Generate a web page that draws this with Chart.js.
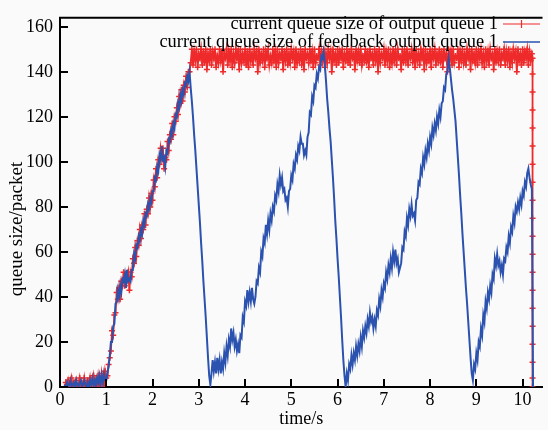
<!DOCTYPE html>
<html><head><meta charset="utf-8">
<script src="https://cdn.jsdelivr.net/npm/chart.js@4.4.1/dist/chart.umd.min.js"></script>
<style>html,body{margin:0;padding:0;background:#fafafa;}#wrap{width:548px;height:430px;position:relative;}</style>
</head><body><div id="wrap"><canvas id="c"></canvas></div>
<script>
// sampling grid of both traces (seconds)
const sampleStart = 0.1;
const sampleStep = 0.025;
const xTickValues = [0,1,2,3,4,5,6,7,8,9,10];
const yTickValues = [0,20,40,60,80,100,120,140,160];
const seriesNames = ['current queue size of output queue 1','current queue size of feedback output queue 1'];
const xTitle = 'time/s';
const yTitle = 'queue size/packet';

// feedback output queue (blue), one row = 0.5 s
const feedbackQueue = [
1,0,2,0,1,3,0,1,2,0,3,1,0,2,3,0,1,3,1,0,
2,0,3,1,4,1,3,0,4,2,5,1,5,2,6,3,3,6,9,14,
20,20,27,28,37,38,43,40,45,42,48,47,50,44,52,47,48,47,52,52,
59,57,63,62,67,65,70,68,74,72,77,76,81,79,84,82,87,87,93,92,
98,96,103,101,107,101,102,98,105,104,110,109,114,112,117,115,121,120,126,124,
130,127,132,130,135,134,138,136,140,133,127,120,112,105,97,89,81,73,64,56,
47,39,31,22,13,5,1,6,12,7,11,6,13,8,12,6,11,8,15,11,
18,14,21,18,26,21,24,18,21,16,19,15,23,22,31,29,38,36,43,38,
42,38,44,39,37,40,47,46,53,51,60,58,66,64,72,68,74,70,77,74,
80,78,85,83,90,87,94,90,93,87,88,83,84,80,87,88,94,92,99,97,
103,101,107,105,111,108,108,103,105,103,111,113,122,121,129,127,134,133,139,137,
142,141,147,146,149,143,136,128,122,115,109,101,93,84,74,66,57,49,40,31,
21,12,5,0,6,3,10,8,14,10,15,12,18,14,19,16,22,18,25,22,
27,24,30,27,33,29,31,26,30,27,34,32,39,36,43,40,46,44,51,48,
54,51,57,53,60,56,61,55,57,51,53,55,62,61,69,67,75,72,79,76,
81,76,77,74,83,84,91,90,97,95,102,99,105,102,108,105,111,108,115,112,
117,114,120,117,123,120,126,127,133,132,139,140,146,142,137,132,128,123,118,110,
102,94,85,77,68,60,52,44,37,29,21,13,6,3,10,8,15,12,20,18,
26,23,32,29,38,35,42,39,45,42,50,48,57,54,59,54,56,51,54,50,
57,56,62,60,67,64,71,69,76,73,80,78,82,79,84,81,87,85,91,89,
95,97,93,90,88,0
];

// output queue (red), one row = 0.5 s
const outputQueue = [
0,2,0,3,0,1,4,0,2,0,3,0,1,4,0,2,0,4,0,2,
3,0,4,0,2,5,0,3,0,5,1,0,6,2,0,7,4,5,10,13,
16,25,23,32,33,42,39,44,39,47,45,51,45,50,48,51,43,51,49,57,
55,62,58,65,63,70,66,72,70,77,72,79,77,84,80,86,83,92,89,97,
93,101,99,106,102,106,97,102,101,109,105,112,110,117,112,120,118,124,121,129,
126,132,127,134,131,138,133,140,140,144,150,143,149,145,150,142,148,146,150,143,
149,144,150,141,148,145,150,143,149,146,150,142,147,144,150,145,149,140,148,146,
150,143,149,145,150,142,148,144,150,146,149,141,150,144,148,145,150,143,149,142,
150,145,148,143,150,146,149,140,150,144,148,145,150,142,149,146,150,143,147,144,
150,145,149,142,150,144,148,146,150,141,149,145,150,143,148,144,150,146,149,142,
150,144,148,145,150,143,149,141,150,146,148,144,150,145,149,142,150,144,147,146,
150,143,149,145,150,142,148,144,150,146,149,140,150,145,148,143,150,144,149,146,
150,142,148,145,150,144,149,143,150,146,148,141,150,145,149,144,150,143,147,145,
150,144,149,142,150,146,148,143,150,145,149,140,150,144,148,146,150,143,149,145,
150,142,148,144,150,145,149,143,150,146,147,141,150,144,149,145,150,143,148,146,
150,144,149,142,150,145,148,143,150,146,149,141,150,144,148,145,150,142,149,146,
150,143,148,145,150,144,149,142,150,146,148,140,150,145,149,143,150,144,147,146,
150,142,149,145,150,144,148,143,150,146,149,141,150,145,148,144,150,143,149,146,
150,144,148,142,150,145,149,143,150,146,148,141,150,144,149,145,150,143,148,146,
150,143,149,145,150,142,148,144,150,146,149,140,150,145,148,143,150,144,149,146,
150,143,149,145,148
];
// final emptying of the output queue
const outputDropTime = 10.215;
const outputDropValues = [146,139,131,123,115,107,99,91,83,75,67,59,51,43,35,27,19,11,4,0];

const RED = '#ee2a2a';
const BLUE = '#2a52ae';
const FAMILY = '"Liberation Serif", "Times New Roman", serif';
const FONT = {family: FAMILY, size: 18};

const toPoints = arr => arr.map((v, i) => ({x: +(sampleStart + i * sampleStep).toFixed(3), y: v}));
const redPoints = toPoints(outputQueue).concat(outputDropValues.map(v => ({x: outputDropTime, y: v})));
const bluePoints = toPoints(feedbackQueue);

const bgPlugin = {
  id: 'bg',
  beforeDraw(chart) {
    const ctx = chart.ctx;
    ctx.save(); ctx.fillStyle = '#fafafa'; ctx.fillRect(0, 0, chart.width, chart.height); ctx.restore();
  }
};

const framePlugin = {
  id: 'frame',
  afterDraw(chart) {
    const {ctx, chartArea: a, scales: {x, y}} = chart;
    ctx.save();
    ctx.strokeStyle = '#000'; ctx.lineWidth = 2;
    ctx.beginPath();
    ctx.moveTo(a.left - 1, a.top); ctx.lineTo(a.right, a.top);
    yTickValues.forEach(v => { const p = Math.round(y.getPixelForValue(v)); ctx.moveTo(a.left, p); ctx.lineTo(a.left + 8, p); });
    xTickValues.forEach(v => { const p = Math.round(x.getPixelForValue(v)); ctx.moveTo(p, a.bottom); ctx.lineTo(p, a.bottom - 8); });
    ctx.stroke();
    // y axis title
    ctx.save();
    ctx.font = '19px ' + FAMILY; ctx.fillStyle = '#000';
    ctx.textAlign = 'center'; ctx.textBaseline = 'middle';
    ctx.translate(17, 229); ctx.rotate(-Math.PI / 2);
    ctx.fillText(yTitle, 0, 0);
    ctx.restore();
    // legend
    ctx.font = '18.4px ' + FAMILY;
    ctx.fillStyle = '#000'; ctx.textAlign = 'right'; ctx.textBaseline = 'alphabetic';
    const rows = [{name: seriesNames[0], color: RED, base: 29, ly: 24, w: 1.2, cross: true},
                  {name: seriesNames[1], color: BLUE, base: 47, ly: 42, w: 1.5, cross: false}];
    rows.forEach(r => {
      ctx.fillText(r.name, 498, r.base);
      ctx.strokeStyle = r.color; ctx.lineWidth = r.w;
      ctx.beginPath(); ctx.moveTo(503, r.ly); ctx.lineTo(540, r.ly);
      if (r.cross) { ctx.moveTo(521.5, r.ly - 4); ctx.lineTo(521.5, r.ly + 4); }
      ctx.stroke();
    });
    ctx.restore();
  }
};

new Chart(document.getElementById('c'), {
  type: 'line',
  data: {
    datasets: [
      {label: seriesNames[0], data: redPoints, borderColor: RED, backgroundColor: RED, borderWidth: 1.8,
       pointStyle: 'cross', pointRadius: 3, pointBorderWidth: 1.5, pointBorderColor: RED, order: 1, tension: 0},
      {label: seriesNames[1], data: bluePoints, borderColor: BLUE, backgroundColor: BLUE, borderWidth: 2,
       pointRadius: 0, order: 0, tension: 0}
    ]
  },
  options: {
    animation: false, responsive: true, maintainAspectRatio: false,
    layout: {padding: {top: 13, left: 0, right: 0, bottom: 0}},
    plugins: {legend: {display: false}, tooltip: {enabled: false}},
    scales: {
      x: {
        type: 'linear', min: 0, max: 10.43,
        grid: {display: false, drawTicks: false},
        border: {display: true, color: '#000', width: 2},
        ticks: {font: FONT, color: '#000', padding: 2, maxRotation: 0, autoSkip: false, includeBounds: false},
        afterBuildTicks: s => { s.ticks = xTickValues.map(v => ({value: v})); },
        afterFit: s => { s.height = 43; },
        title: {display: true, text: xTitle, font: FONT, color: '#000', padding: {top: 0, bottom: 0}}
      },
      y: {
        type: 'linear', min: 0, max: 164,
        grid: {display: false, drawTicks: false},
        border: {display: true, color: '#000', width: 2},
        ticks: {font: FONT, color: '#000', padding: 7, includeBounds: false},
        afterBuildTicks: s => { s.ticks = yTickValues.map(v => ({value: v})); },
        afterFit: s => { s.width = 60; },
        title: {display: false, text: yTitle}
      }
    }
  },
  plugins: [bgPlugin, framePlugin]
});
</script></body></html>
